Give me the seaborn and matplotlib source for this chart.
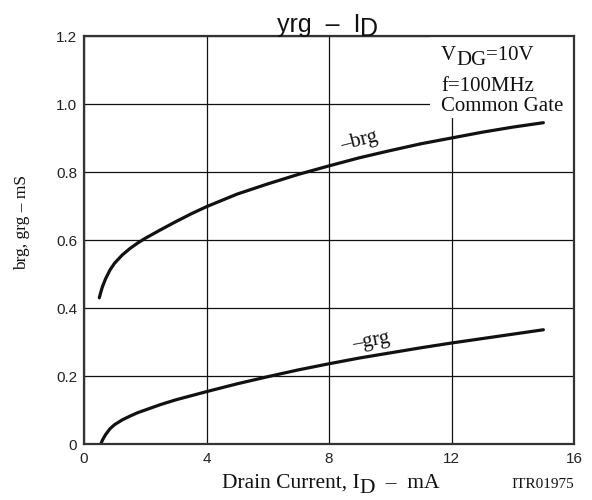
import pandas as pd
import seaborn as sns
import matplotlib.pyplot as plt
from matplotlib.patches import Rectangle

# curve data (drain current in mA, conductance in mS)
brg_current = [0.5, 0.55, 0.6, 0.7, 0.85, 1.0, 1.25, 1.5, 1.75, 2, 2.5, 3, 3.5, 4,
               5, 6, 7, 8, 9, 10, 11, 12, 13, 14, 15]
brg_values = [0.43, 0.447, 0.462, 0.485, 0.512, 0.532, 0.556, 0.575, 0.591, 0.605, 0.630,
              0.654, 0.677, 0.698, 0.735, 0.765, 0.793, 0.818, 0.842, 0.863, 0.883, 0.900,
              0.917, 0.932, 0.945]
grg_current = [0.55, 0.6, 0.7, 0.85, 1.0, 1.25, 1.5, 1.75, 2, 2.5, 3, 3.5, 4,
               5, 6, 7, 8, 9, 10, 11, 12, 13, 14, 15]
grg_values = [0.0, 0.011, 0.027, 0.045, 0.057, 0.071, 0.082, 0.092, 0.100, 0.116, 0.130,
              0.142, 0.154, 0.177, 0.198, 0.218, 0.236, 0.253, 0.268, 0.283, 0.297, 0.310,
              0.323, 0.336]

x_ticks = [0, 4, 8, 12, 16]
y_ticks = [0, 0.2, 0.4, 0.6, 0.8, 1.0, 1.2]
y_tick_labels = ['0', '0.2', '0.4', '0.6', '0.8', '1.0', '1.2']

df_brg = pd.DataFrame({'ID': brg_current, 'value': brg_values})
df_grg = pd.DataFrame({'ID': grg_current, 'value': grg_values})

sns.set_theme(style='white')
plt.rcParams['font.family'] = ['Liberation Sans', 'DejaVu Sans']

SERIF = ['Liberation Serif', 'DejaVu Serif']


def chain_text(ax, x, y, parts, transform, **kw):
    # draw text pieces one after another, each piece can be shifted up/down (points)
    t = ax.text(x, y, parts[0][0], transform=transform, va='baseline', ha='left', **kw)
    for s, dy in parts[1:]:
        t = ax.annotate(s, xy=(1, 0), xycoords=t, xytext=(0, dy), textcoords='offset points',
                        va='bottom', ha='left', annotation_clip=False, **kw)
    return t


fig = plt.figure(figsize=(5.92, 5.0), dpi=100)
ax = fig.add_axes([84 / 592, 1 - 444 / 500, 490 / 592, 408 / 500])

sns.lineplot(data=df_brg, x='ID', y='value', ax=ax, color='#111111', linewidth=2.3, sort=False)
sns.lineplot(data=df_grg, x='ID', y='value', ax=ax, color='#111111', linewidth=2.3, sort=False)

ax.set_xlim(0, 16)
ax.set_ylim(0, 1.2)
ax.set_xticks(x_ticks)
ax.set_yticks(y_ticks)
ax.set_yticklabels(y_tick_labels)
ax.tick_params(axis='both', length=0, labelsize=11, colors='#222222')
ax.tick_params(axis='x', pad=6)
ax.tick_params(axis='y', pad=5)
ax.set_xlabel('')
ax.set_ylabel('')

ax.set_axisbelow(True)
ax.grid(True, color='#111111', linewidth=0.9)
for sp in ax.spines.values():
    sp.set_color('#333333')
    sp.set_linewidth(1.6)

# white box behind the conditions text
ax.add_patch(Rectangle((0.706, 0.799), 0.294, 0.201, transform=ax.transAxes,
                       facecolor='white', edgecolor='none', zorder=1))

chain_text(ax, 0.7286, 0.941, [('V', 0), ('DG', -3.5), ('=10V', 3.5)], ax.transAxes,
           family=SERIF, fontsize=15, color='#111111')
ax.text(0.7286, 0.866, 'f=100MHz', transform=ax.transAxes, family=SERIF, fontsize=15,
        va='baseline', ha='left', color='#111111')
ax.text(0.7286, 0.816, 'Common Gate', transform=ax.transAxes, family=SERIF, fontsize=15,
        va='baseline', ha='left', color='#111111')

# curve labels
ax.text(9.0, 0.891, '\u2013brg', family=SERIF, fontsize=15, rotation=14,
        ha='center', va='center', color='#111111')
ax.text(9.36, 0.303, '\u2013grg', family=SERIF, fontsize=15, rotation=10,
        ha='center', va='center', color='#111111')

# title
chain_text(ax, 0.393, 1.0098, [('yrg  \u2013  I', 0), ('D', -3)], ax.transAxes,
           fontsize=18, color='#111111')

# axis labels
chain_text(ax, 0.2816, -0.1078, [('Drain Current, I', 0), ('D', -3.5), ('  \u2013  mA', 3.5)],
           ax.transAxes, family=SERIF, fontsize=15.5, color='#111111')
ax.text(-0.127, 0.544, 'brg, grg \u2013 mS', transform=ax.transAxes, family=SERIF,
        fontsize=12.5, rotation=90, ha='center', va='center', color='#111111')
ax.text(1.0, -0.1078, 'ITR01975', transform=ax.transAxes, family=SERIF, fontsize=11,
        ha='right', va='baseline', color='#111111')

fig.savefig('out.png', dpi=100)
